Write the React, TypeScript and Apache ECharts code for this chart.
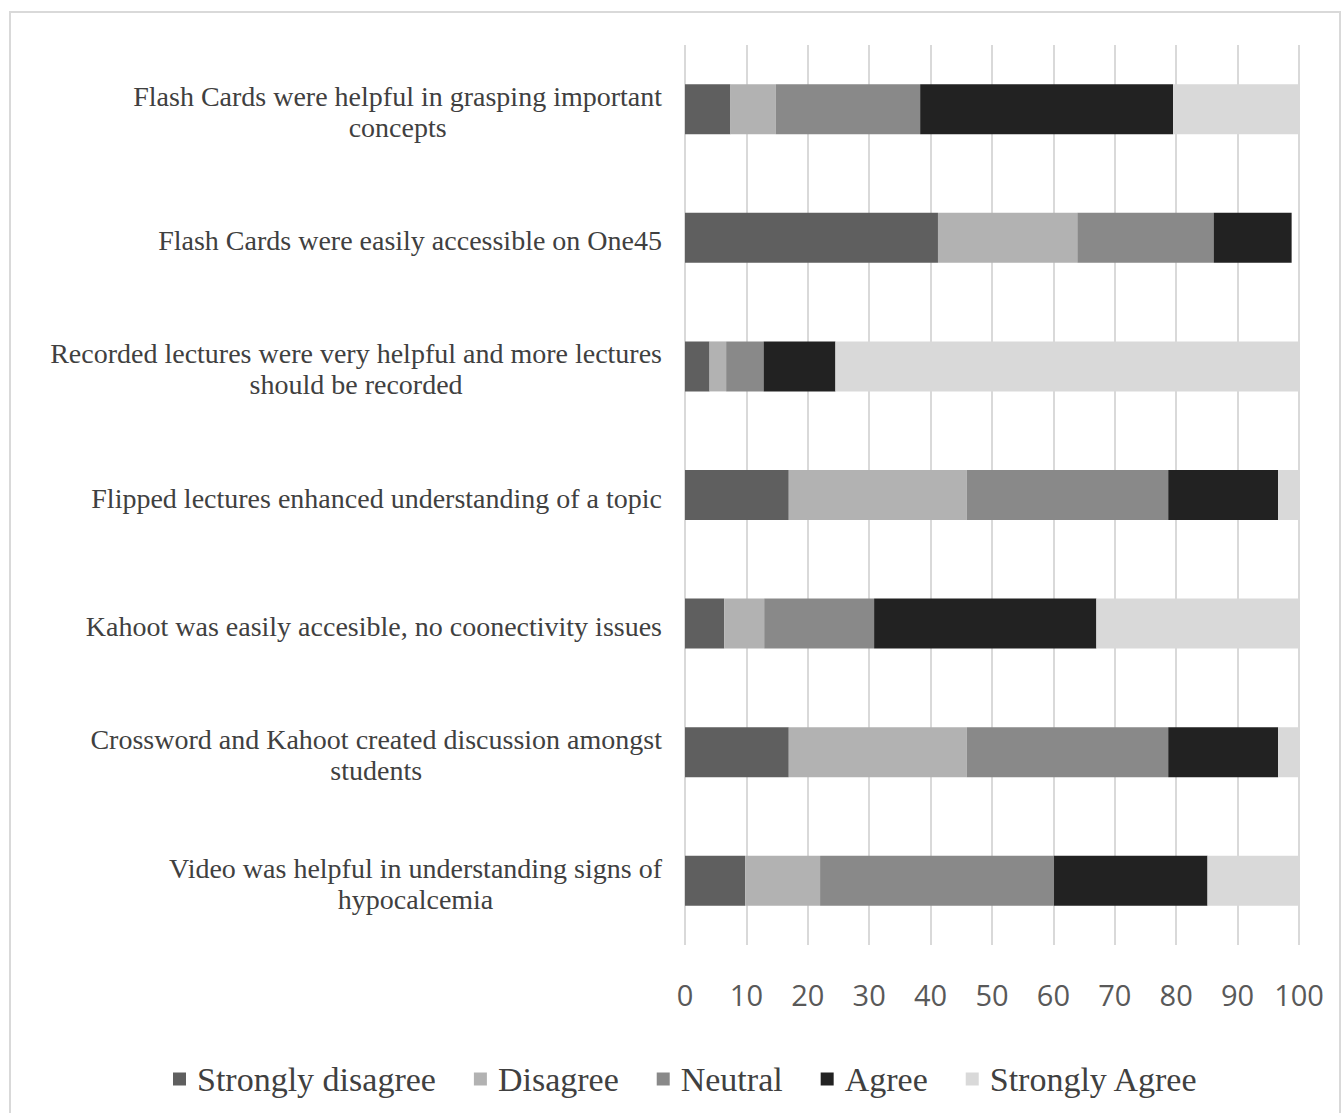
import React, { useEffect, useRef } from "react";
import * as echarts from "echarts";

const categories: string[][] = [
  ["Flash Cards were helpful in grasping important", "concepts"],
  ["Flash Cards were easily accessible on One45"],
  ["Recorded lectures were very helpful and more lectures", "should be recorded"],
  ["Flipped lectures enhanced understanding of a topic"],
  ["Kahoot was easily accesible, no coonectivity issues"],
  ["Crossword and Kahoot created discussion amongst", "students"],
  ["Video was helpful in understanding signs of", "hypocalcemia"],
];

const seriesNames = ["Strongly disagree", "Disagree", "Neutral", "Agree", "Strongly Agree"];

const stronglyDisagree = [7.4, 41.2, 4.0, 16.9, 6.4, 16.9, 9.8];
const disagree = [7.4, 22.7, 2.7, 29.0, 6.5, 29.0, 12.2];
const neutral = [23.5, 22.2, 6.1, 32.8, 17.9, 32.8, 38.1];
const agree = [41.2, 12.7, 11.7, 17.9, 36.2, 17.9, 25.0];
const stronglyAgree = [20.5, 0, 75.5, 3.4, 33.0, 3.4, 14.9];

const xTicks = [0, 10, 20, 30, 40, 50, 60, 70, 80, 90, 100];

const colors = ["#5f5f5f", "#b2b2b2", "#898989", "#222222", "#d9d9d9"];

export default function App() {
  const ref = useRef<HTMLDivElement>(null);
  useEffect(() => {
    if (!ref.current) return;
    const chart = echarts.init(ref.current, undefined, { renderer: "svg" });
    const values = [stronglyDisagree, disagree, neutral, agree, stronglyAgree];
    const catKeys = categories.map((c) => c.join("\n"));
    chart.setOption({
      animation: false,
      backgroundColor: "#ffffff",
      graphic: [
        {
          type: "rect",
          shape: { x: 10, y: 12, width: 1330, height: 1110 },
          style: { fill: "none", stroke: "#d9d9d9", lineWidth: 2 },
          silent: true,
        },
      ],
      grid: { left: 685, right: 44, top: 45, bottom: 168, containLabel: false },
      legend: {
        data: seriesNames,
        left: 168,
        top: 1057,
        itemWidth: 13,
        itemHeight: 13,
        itemGap: 38,
        icon: "rect",
        textStyle: {
          fontFamily: "Liberation Serif",
          fontSize: 34,
          color: "#404040",
          padding: [0, 0, 0, 6],
        },
      },
      xAxis: {
        type: "value",
        min: 0,
        max: 100,
        interval: 10,
        axisLine: { show: false },
        axisTick: { show: false },
        splitLine: { show: true, lineStyle: { color: "#d9d9d9", width: 2 } },
        axisLabel: {
          margin: 35,
          fontFamily: "Open Sans",
          fontSize: 29,
          color: "#595959",
          formatter: (v: number) => (xTicks.includes(v) ? String(v) : ""),
        },
      },
      yAxis: {
        type: "category",
        inverse: true,
        data: catKeys,
        axisLine: { show: false },
        axisTick: { show: false },
        axisLabel: {
          margin: 23,
          padding: [6, 0, 0, 0],
          color: "#404040",
          fontFamily: "Liberation Serif",
          fontSize: 28,
          lineHeight: 31,
          formatter: (v: string) =>
            v
              .split("\n")
              .map((l) => `{c|${l}}`)
              .join("\n"),
          rich: {
            c: {
              align: "center",
              fontFamily: "Liberation Serif",
              fontSize: 28,
              lineHeight: 31,
              color: "#404040",
            },
          },
        },
      },
      series: seriesNames.map((name, i) => ({
        name,
        type: "bar",
        stack: "total",
        barWidth: 50,
        itemStyle: { color: colors[i] },
        data: values[i],
      })),
    });
    return () => chart.dispose();
  }, []);
  return (
    <div
      ref={ref}
      style={{ position: "fixed", left: 0, top: 0, width: 1343, height: 1113, background: "#fff" }}
    />
  );
}
